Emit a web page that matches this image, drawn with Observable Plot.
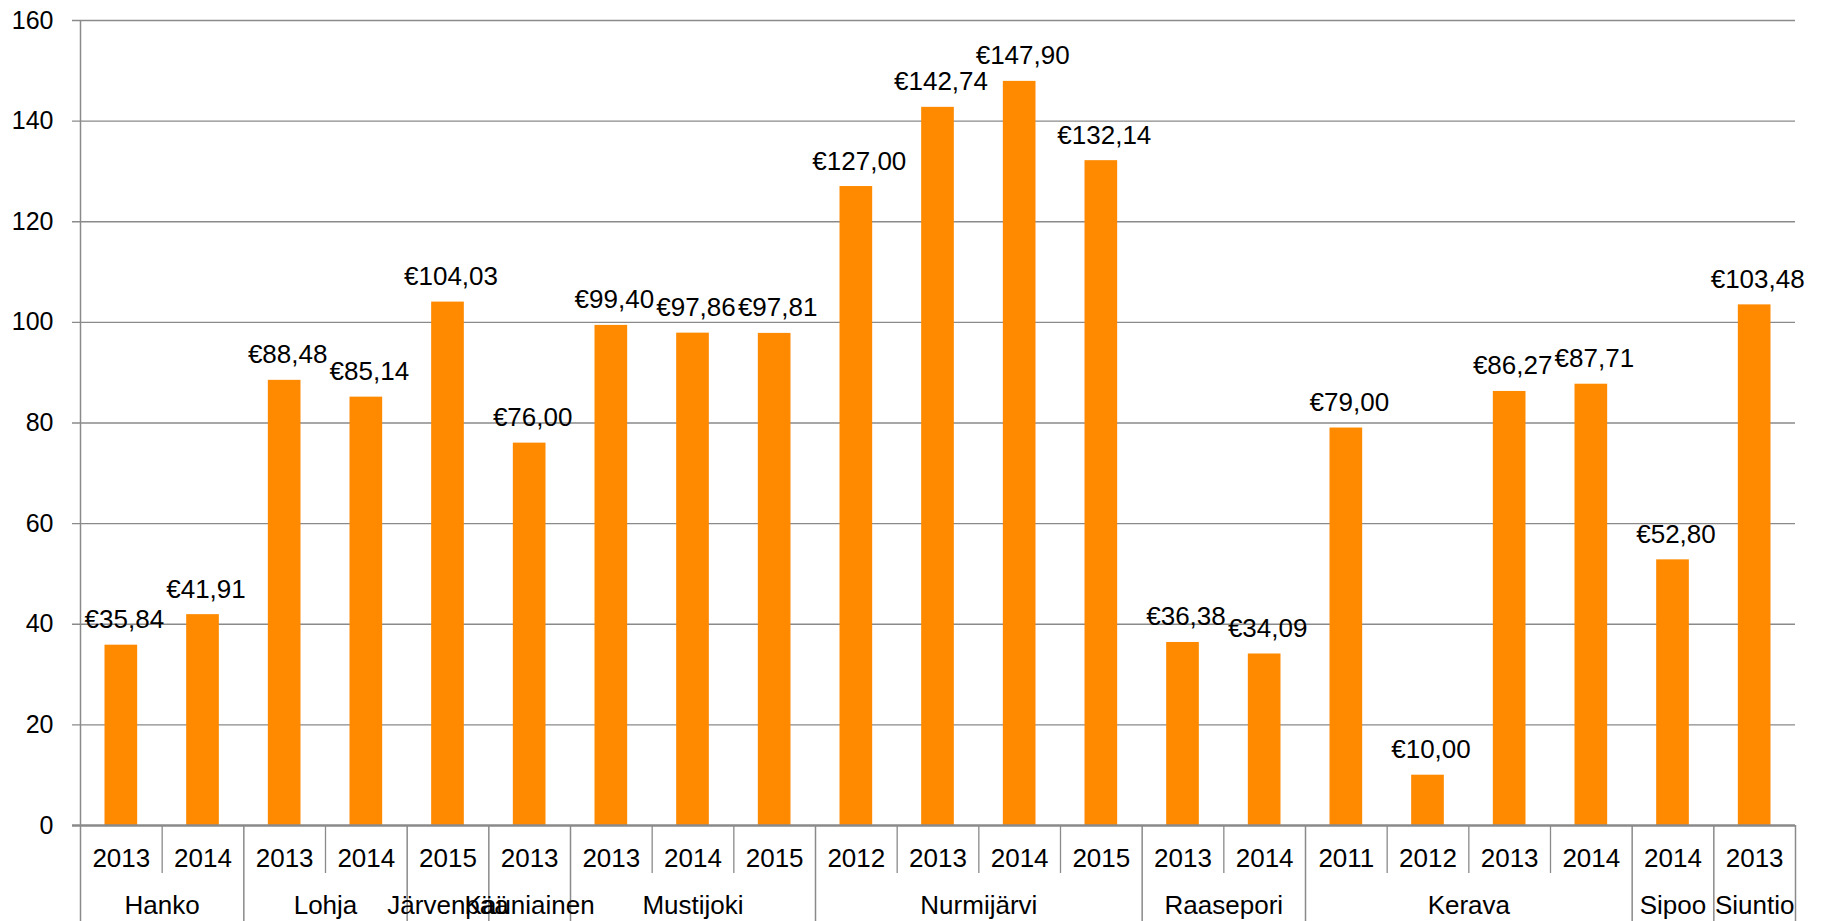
<!DOCTYPE html>
<html>
<head>
<meta charset="utf-8">
<script src="https://cdn.jsdelivr.net/npm/d3@7"></script>
<script src="https://cdn.jsdelivr.net/npm/@observablehq/plot@0.6"></script>
<style>
  html, body { margin: 0; padding: 0; background: #fff; }
  #chart { width: 1821px; height: 921px; }
</style>
</head>
<body>
<div id="chart"></div>
<script>
const municipalities = ["Hanko","Hanko","Lohja","Lohja","Järvenpää","Kauniainen","Mustijoki","Mustijoki","Mustijoki","Nurmijärvi","Nurmijärvi","Nurmijärvi","Nurmijärvi","Raasepori","Raasepori","Kerava","Kerava","Kerava","Kerava","Sipoo","Siuntio"];
const years = ["2013","2014","2013","2014","2015","2013","2013","2014","2015","2012","2013","2014","2015","2013","2014","2011","2012","2013","2014","2014","2013"];
const values = [35.84,41.91,88.48,85.14,104.03,76.00,99.40,97.86,97.81,127.00,142.74,147.90,132.14,36.38,34.09,79.00,10.00,86.27,87.71,52.80,103.48];
const yTicks = [0,20,40,60,80,100,120,140,160];

const data = values.map((v, i) => ({i, value: v, year: years[i], muni: municipalities[i]}));

// groups of consecutive municipalities
const groups = [];
data.forEach(d => {
  const last = groups[groups.length - 1];
  if (last && last.muni === d.muni) last.end = d.i + 1;
  else groups.push({muni: d.muni, start: d.i, end: d.i + 1});
});
const groupEdges = new Set(groups.flatMap(g => [g.start, g.end]));
const boundaries = d3.range(0, data.length + 1);
const minorEdges = boundaries.filter(b => !groupEdges.has(b));
const majorEdges = boundaries.filter(b => groupEdges.has(b));

const fmt = v => "€" + v.toFixed(2).replace(".", ",");
const gray = "#8a8a8a";
const FONT = "'Liberation Sans', Arial, sans-serif";

const chart = Plot.plot({
  width: 1821,
  height: 921,
  marginLeft: 80,
  marginRight: 26,
  marginTop: 20,
  marginBottom: 96,
  style: {fontFamily: FONT, fontSize: "26px", color: "#000", background: "#fff"},
  x: {type: "linear", domain: [0, data.length], axis: null},
  y: {domain: [0, 160], axis: null},
  marks: [
    Plot.ruleY(yTicks.filter(t => t > 0), {stroke: gray, strokeWidth: 1.3, insetLeft: -8}),
    Plot.axisY({ticks: yTicks, tickSize: 0, tickPadding: 27, fontSize: 25, fill: "#000", label: null, tickFormat: d => String(d)}),
    Plot.rectY(data, {x1: d => d.i, x2: d => d.i + 1, y: "value", fill: "#ff8a00", insetLeft: 24.5, insetRight: 24.5}),
    Plot.text(data, {x: d => d.i + 0.5, y: "value", text: d => fmt(d.value), lineAnchor: "bottom", dy: -17, dx: 3, fontSize: 26, fill: "#000"}),
    // y axis line
    Plot.ruleX([0], {stroke: gray, strokeWidth: 1.5}),
    // short separators between years (below the axis)
    Plot.ruleX(minorEdges, {x: d => d, stroke: gray, strokeWidth: 1.3, insetTop: 805, insetBottom: -48}),
    // long separators between municipalities (below the axis)
    Plot.ruleX(majorEdges, {x: d => d, stroke: gray, strokeWidth: 1.5, insetTop: 805, insetBottom: -96}),
    // x axis baseline
    Plot.ruleY([0], {stroke: gray, strokeWidth: 2.5, insetLeft: -8}),
    Plot.text(data, {x: d => d.i + 0.5, y: 0, text: "year", dy: 33, lineAnchor: "middle", fontSize: 26, fill: "#000"}),
    Plot.text(groups, {x: g => (g.start + g.end) / 2, y: 0, text: "muni", dy: 80, lineAnchor: "middle", fontSize: 26, fill: "#000"})
  ]
});
document.getElementById("chart").appendChild(chart);
</script>
</body>
</html>
